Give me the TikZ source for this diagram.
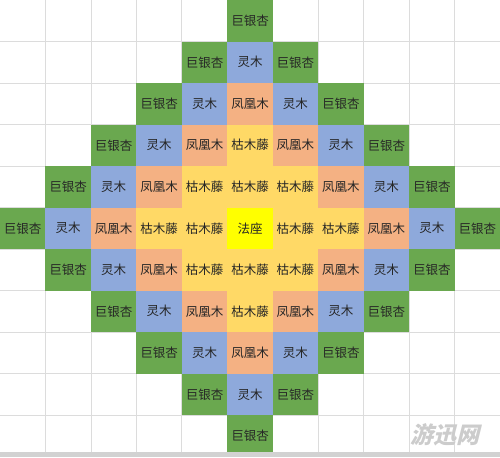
\documentclass[tikz,border=0pt]{standalone}
\usepackage{fontspec}
\newfontfamily\cjk{Noto Sans CJK SC}
\usepackage{tikz}
\usetikzlibrary{positioning}

\definecolor{fazuoY}{HTML}{FFFF00}
\definecolor{kumuY}{HTML}{FFD966}
\definecolor{fenghuangR}{HTML}{F4B183}
\definecolor{lingmuB}{HTML}{8EA9DB}
\definecolor{yinxingG}{HTML}{6AA84F}
\definecolor{gridG}{HTML}{DCDCDC}

\tikzset{
  cell/.style={minimum width=45.45pt,minimum height=41.5pt,inner sep=0pt,
    font=\cjk\fontsize{12.5}{14}\selectfont,text=black!85},
  gridline/.style={draw=gridG,line width=0.8pt}
}

\begin{document}
\begin{tikzpicture}[x=45.45pt,y=-41.5pt]
\useasboundingbox (0,0) rectangle (11,11.012);

%sheet grid
\foreach \i in {1,...,10}{
  \draw[gridline] (\i,0) -- (\i,11);
  \draw[gridline] (0,\i) -- (11,\i);
}

%cells, by distance from the centre
\foreach \r in {0,...,10}
  \foreach \c in {0,...,10}{
    \pgfmathtruncatemacro{\d}{abs(\r-5)+abs(\c-5)}
    \ifnum\d<6
      \ifcase\d
        \def\kind{fazuoY}\def\txt{法座}\or
        \def\kind{kumuY}\def\txt{枯木藤}\or
        \def\kind{kumuY}\def\txt{枯木藤}\or
        \def\kind{fenghuangR}\def\txt{凤凰木}\or
        \def\kind{lingmuB}\def\txt{灵木}\or
        \def\kind{yinxingG}\def\txt{巨银杏}\fi
      \node[cell,fill=\kind] (c\r-\c) at (\c+0.5,\r+0.5) {\txt};
    \fi
  }

%bottom edge
\fill[gray!35] (0,10.89) rectangle (11,11.012);

%watermark
\node[font=\cjk\fontsize{23}{24}\selectfont\bfseries,text=gray!40,xslant=0.25]
  (mark) at (9.83,10.47) {游迅网};

\end{tikzpicture}
\end{document}
